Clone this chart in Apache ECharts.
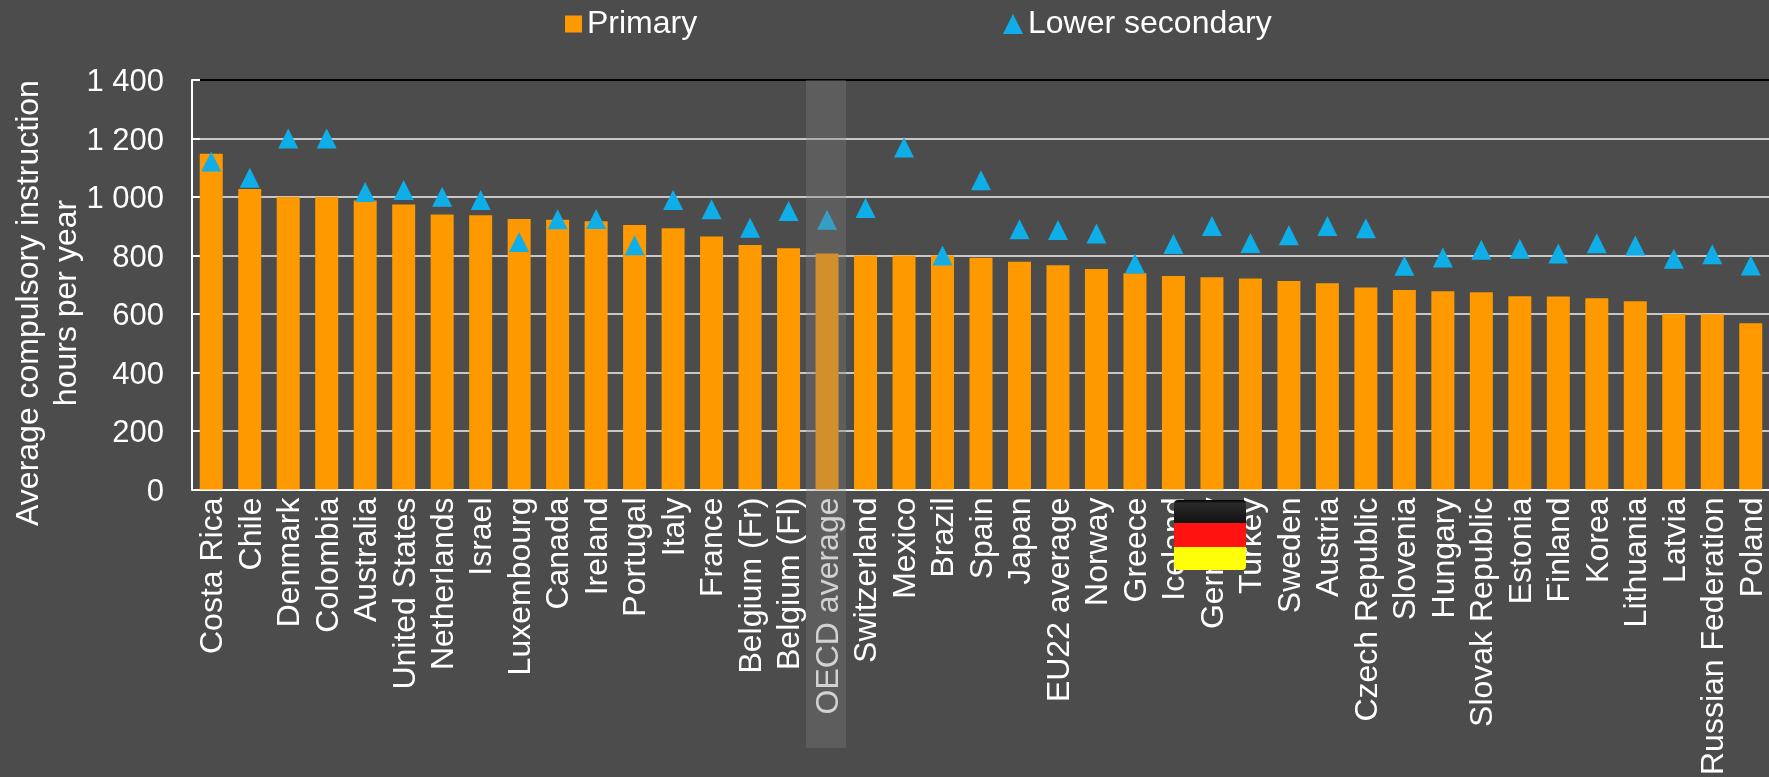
<!DOCTYPE html>
<html>
<head>
<meta charset="utf-8">
<style>html,body{margin:0;padding:0;background:#4c4c4c;overflow:hidden}#c{width:1769px;height:777px}</style>
<script src="https://cdn.jsdelivr.net/npm/echarts@6/dist/echarts.min.js"></script>
</head>
<body>
<div id="c"></div>
<script>
const categories = ["Costa Rica","Chile","Denmark","Colombia","Australia","United States","Netherlands","Israel","Luxembourg","Canada","Ireland","Portugal","Italy","France","Belgium (Fr)","Belgium (Fl)","OECD average","Switzerland","Mexico","Brazil","Spain","Japan","EU22 average","Norway","Greece","Iceland","Germany","Turkey","Sweden","Austria","Czech Republic","Slovenia","Hungary","Slovak Republic","Estonia","Finland","Korea","Lithuania","Latvia","Russian Federation","Poland"];
const primary = [1148,1027,1000,1000,988,974,940,938,925,922,917,904,893,865,836,825,807,800,800,800,792,779,767,754,739,730,726,721,713,705,691,682,678,674,661,660,654,644,600,599,568];
const lowerSecondary = [1121,1066,1200,1200,1017,1024,1001,990,846,924,925,835,990,958,895,952,922,962,1169,800,1057,890,887,875,773,839,901,843,869,901,893,765,793,820,823,807,842,834,789,804,766];
const yTicks = {0:"0",200:"200",400:"400",600:"600",800:"800",1000:"1 000",1200:"1 200",1400:"1 400"};
const axisTitle = "Average compulsory instruction\nhours per year";
const font = "'Liberation Sans', Arial, sans-serif";
const white = "#ffffff";
const chart = echarts.init(document.getElementById("c"), null, {renderer:"canvas"});
chart.setOption({
  animation:false,
  backgroundColor:"#4c4c4c",
  legend:[
    {data:[{name:"Primary",icon:"rect"}],left:565,top:8,padding:0,itemWidth:17,itemHeight:17,itemGap:0,selectedMode:false,
     textStyle:{color:white,fontFamily:font,fontSize:32}},
    {data:[{name:"Lower secondary",icon:"triangle"}],left:1003,top:8,padding:0,itemWidth:20,itemHeight:20,itemGap:0,selectedMode:false,
     textStyle:{color:white,fontFamily:font,fontSize:32}}
  ],
  grid:{left:192,right:-1,top:80,bottom:287.5,containLabel:false,outerBoundsMode:"none"},
  xAxis:{type:"category",data:categories,
    axisLine:{show:true,lineStyle:{color:white,width:2}},
    axisTick:{show:false},
    axisLabel:{interval:0,rotate:90,color:white,fontFamily:font,fontSize:32,margin:8,verticalAlign:"top",padding:[-14,0,0,0],hideOverlap:false},
    splitLine:{show:false}},
  yAxis:{type:"value",min:0,max:1400,interval:200,
    axisLine:{show:true,lineStyle:{color:white,width:2}},
    axisTick:{show:true,inside:true,length:8,lineStyle:{color:white,width:2}},
    axisLabel:{color:white,fontFamily:font,fontSize:31,margin:28,verticalAlign:"top",padding:[-13,0,0,0],formatter:v=>yTicks[v]},
    splitLine:{show:true,lineStyle:{color:["#c8c8c8","#c8c8c8","#c8c8c8","#c8c8c8","#c8c8c8","#c8c8c8","#c8c8c8","#000000"],width:2}}},
  series:[
    {name:"Primary",type:"bar",data:primary,barWidth:23,itemStyle:{color:"#ff9900"},z:2},
    {name:"Lower secondary",type:"scatter",data:lowerSecondary,symbol:"triangle",symbolSize:20,itemStyle:{color:"#10aee8",opacity:1},z:3}
  ],
  graphic:[
    {type:"text",z:50,silent:true,x:48,y:303,rotation:Math.PI/2,
      style:{text:axisTitle,fill:white,font:"32px "+font,lineHeight:38,align:"center",verticalAlign:"middle"}},
    {type:"rect",z:100,silent:true,shape:{x:806,y:80,width:40,height:668},style:{fill:"rgba(127,127,127,0.35)"}},
    {type:"rect",z:101,silent:true,shape:{x:1174,y:500,width:72,height:24,r:[4,4,0,0]},
      style:{fill:{type:"linear",x:0,y:0,x2:0,y2:1,colorStops:[{offset:0,color:"#000000"},{offset:0.15,color:"#2a2a2a"},{offset:1,color:"#101010"}]}}},
    {type:"rect",z:101,silent:true,shape:{x:1174,y:523,width:72,height:25},style:{fill:"#ff1210"}},
    {type:"rect",z:101,silent:true,shape:{x:1174,y:547,width:72,height:23,r:[0,0,4,4]},style:{fill:"#ffff0a"}}
  ]
});
</script>
</body>
</html>
